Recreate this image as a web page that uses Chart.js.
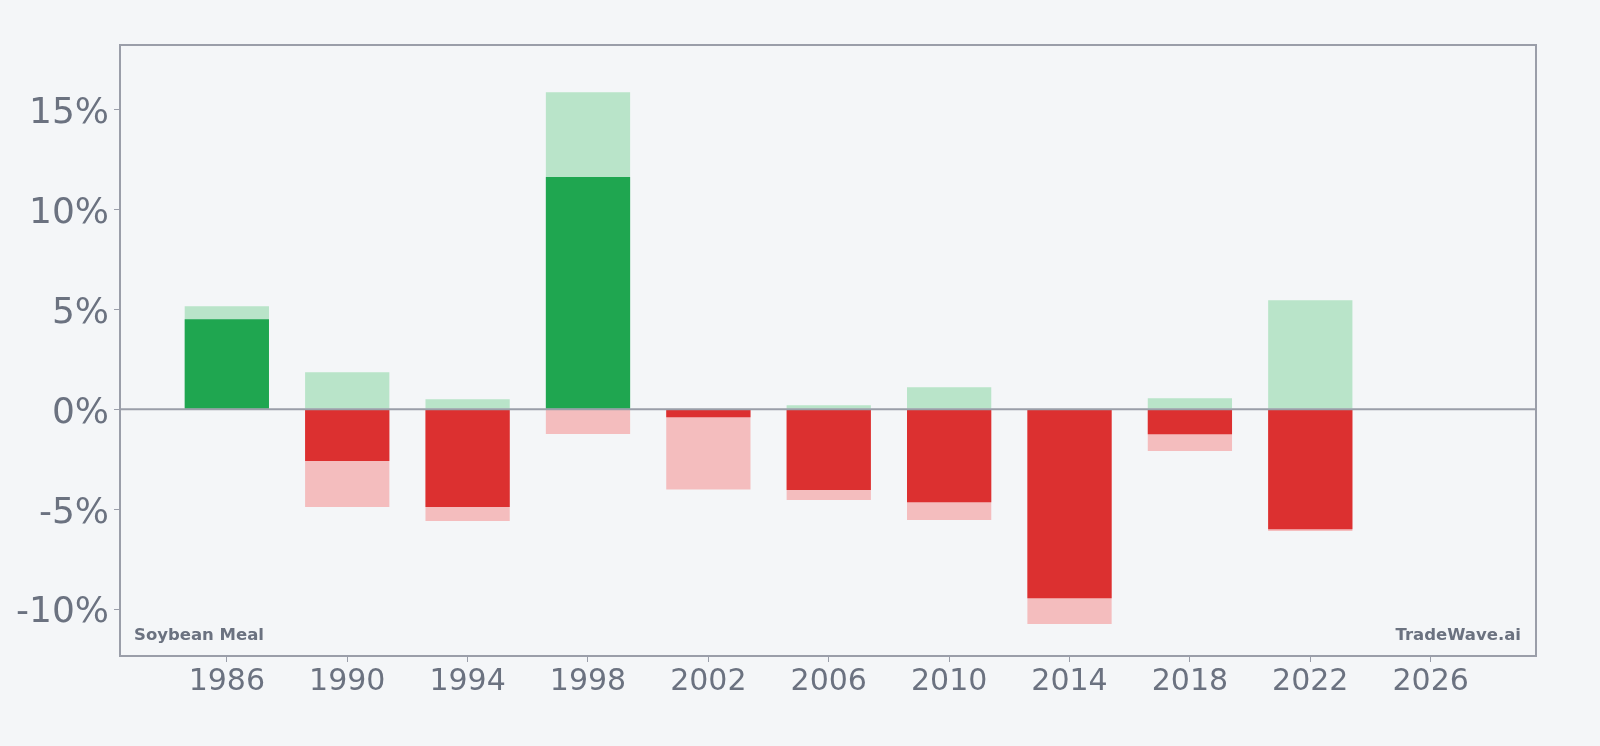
<!DOCTYPE html>
<html>
<head>
<meta charset="utf-8">
<script src="https://cdn.jsdelivr.net/npm/chart.js@4/dist/chart.umd.min.js"></script>
<style>
  html, body { margin: 0; padding: 0; background: #f4f6f8; }
  #wrap { width: 1600px; height: 746px; }
</style>
</head>
<body>
<div id="wrap"><canvas id="c" width="1600" height="746"></canvas></div>
<script>
// Data (percent)
const years = [1986, 1990, 1994, 1998, 2002, 2006, 2010, 2014, 2018, 2022];
const closeReturn = [4.5, -2.59, -4.89, 11.62, -0.4, -4.04, -4.66, -9.46, -1.25, -6.01];
const maxGain = [5.16, 1.85, 0.5, 15.86, 0, 0.2, 1.1, 0, 0.55, 5.46];
const maxDrawdown = [0, -4.89, -5.59, -1.24, -4.02, -4.54, -5.54, -10.75, -2.09, -6.09];
const yTickValues = [-10, -5, 0, 5, 10, 15];
const xTickValues = [1986, 1990, 1994, 1998, 2002, 2006, 2010, 2014, 2018, 2022, 2026];
const commodity = "Soybean Meal";
const brand = "TradeWave.ai";

const GREEN = '#1fa650';
const RED = '#dc3030';
const LIGHT_GREEN = '#b9e4c9';
const LIGHT_RED = '#f4bdbe';
const AXIS = '#9a9ea9';
const TEXT = '#6b7280';

const pts = (arr) => years.map((y, i) => ({ x: y, y: arr[i] }));

const framePlugin = {
  id: 'frame',
  afterDatasetsDraw(chart) {
    const { ctx, chartArea: a, scales } = chart;
    ctx.save();
    ctx.strokeStyle = AXIS;
    ctx.lineWidth = 2;
    const y0 = scales.y.getPixelForValue(0);
    ctx.beginPath();
    ctx.moveTo(a.left, y0);
    ctx.lineTo(a.right, y0);
    ctx.stroke();
    ctx.strokeRect(a.left, a.top, a.right - a.left, a.bottom - a.top);
    ctx.fillStyle = TEXT;
    ctx.font = 'bold 16.5px "DejaVu Sans"';
    ctx.textBaseline = 'alphabetic';
    ctx.textAlign = 'left';
    ctx.fillText(commodity, a.left + 14, a.bottom - 16);
    ctx.textAlign = 'right';
    ctx.fillText(brand, a.right - 15, a.bottom - 16);
    ctx.restore();
  }
};

new Chart(document.getElementById('c'), {
  type: 'bar',
  data: {
    datasets: [
      { label: 'Close', data: pts(closeReturn), backgroundColor: closeReturn.map(v => v >= 0 ? GREEN : RED), order: 1, grouped: false },
      { label: 'Max gain', data: pts(maxGain), backgroundColor: LIGHT_GREEN, order: 2, grouped: false },
      { label: 'Max drawdown', data: pts(maxDrawdown), backgroundColor: LIGHT_RED, order: 2, grouped: false }
    ]
  },
  options: {
    responsive: false,
    animation: false,
    devicePixelRatio: 1,
    barPercentage: 0.7,
    categoryPercentage: 1.0,
    layout: { padding: { left: 0, right: 64, top: 45, bottom: 0 } },
    plugins: { legend: { display: false }, tooltip: { enabled: false } },
    scales: {
      x: {
        type: 'linear',
        offset: false,
        min: 1982.45,
        max: 2029.5,
        afterBuildTicks: (s) => { s.ticks = xTickValues.map(v => ({ value: v })); },
        afterFit: (s) => { s.height = 90; },
        grid: { display: true, offset: false, drawOnChartArea: false, drawTicks: true, tickLength: 6, tickColor: AXIS, tickWidth: 1 },
        border: { display: false },
        ticks: { color: TEXT, font: { family: 'DejaVu Sans', size: 30 }, padding: 2, maxRotation: 0, autoSkip: false, callback: (v) => String(v) }
      },
      y: {
        type: 'linear',
        min: -12.35,
        max: 18.23,
        afterBuildTicks: (s) => { s.ticks = yTickValues.map(v => ({ value: v })); },
        afterFit: (s) => { s.width = 120; },
        grid: { display: true, drawOnChartArea: false, drawTicks: true, tickLength: 6, tickColor: AXIS, tickWidth: 1 },
        border: { display: false },
        ticks: { color: TEXT, font: { family: 'DejaVu Sans', size: 36, lineHeight: 8 / 36 }, padding: 5, autoSkip: false, callback: (v) => ['', v + '%'] }
      }
    }
  },
  plugins: [framePlugin]
});
</script>
</body>
</html>
